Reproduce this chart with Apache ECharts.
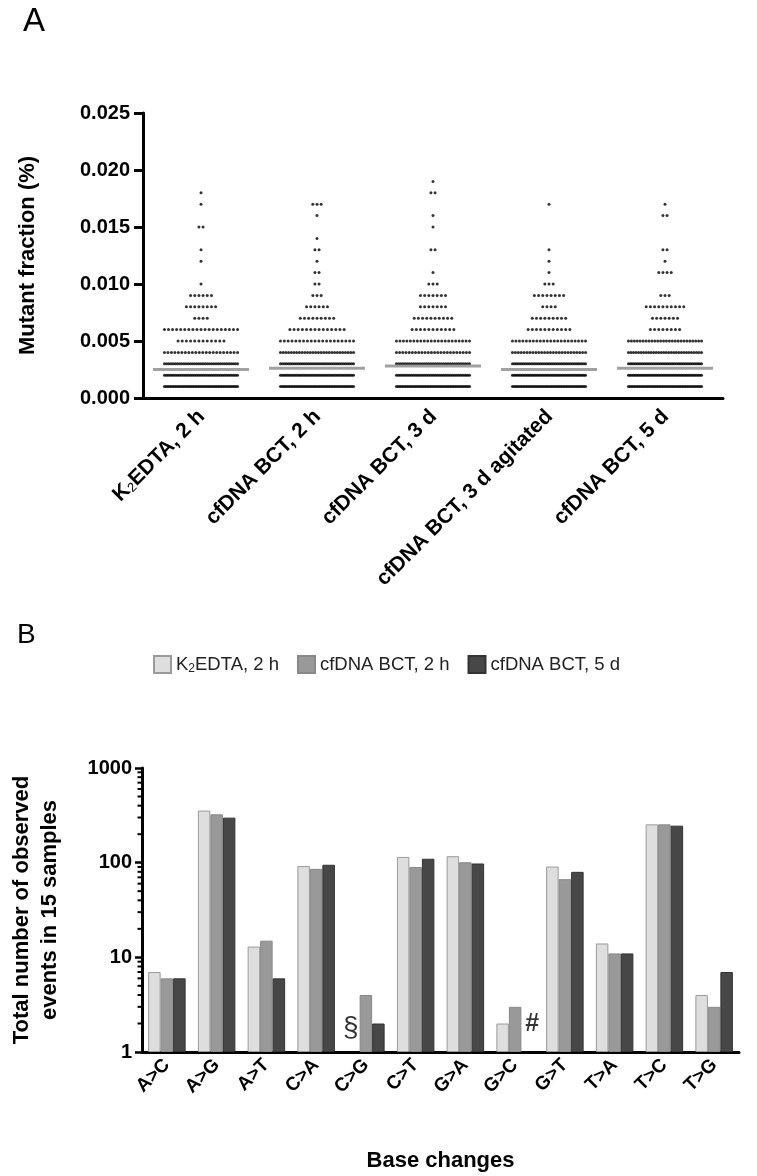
<!DOCTYPE html>
<html>
<head>
<meta charset="utf-8">
<script src="https://cdn.jsdelivr.net/npm/echarts@6/dist/echarts.min.js"></script>
<style>
    html, body { margin: 0; padding: 0; background: #fff; }
    #chart { width: 757px; height: 1176px; }
</style>
</head>
<body>
<div id="chart"></div>
<script>
// ---- panel A: mutant fraction per sample, counts of observations at each level ----
var groupNames = ['K2EDTA, 2 h', 'cfDNA BCT, 2 h', 'cfDNA BCT, 3 d', 'cfDNA BCT, 3 d agitated', 'cfDNA BCT, 5 d'];
var fractionLevels = [0.001, 0.002, 0.003, 0.004, 0.005, 0.006, 0.007, 0.008, 0.009, 0.010,
    0.011, 0.012, 0.013, 0.014, 0.015, 0.016, 0.017, 0.018, 0.019];
var countsK2edta2h = [45, 40, 35, 22, 12, 19, 4, 8, 6, 1, 0, 1, 1, 0, 2, 0, 1, 1, 0];
var countsBct2h = [45, 42, 38, 28, 20, 14, 9, 6, 3, 2, 2, 1, 2, 1, 0, 1, 3, 0, 0];
var countsBct3d = [45, 40, 35, 24, 22, 11, 10, 7, 7, 3, 1, 0, 2, 0, 1, 1, 0, 2, 1];
var countsBct3dAgit = [45, 45, 40, 26, 22, 11, 9, 4, 8, 3, 1, 1, 1, 0, 0, 0, 1, 0, 0];
var countsBct5d = [45, 45, 42, 30, 26, 8, 7, 10, 3, 0, 4, 1, 2, 0, 0, 2, 1, 0, 0];
var meanFractions = [0.0025, 0.0026, 0.0028, 0.0025, 0.0026];

// ---- panel B: base change events ----
var baseChanges = ['A>C', 'A>G', 'A>T', 'C>A', 'C>G', 'C>T', 'G>A', 'G>C', 'G>T', 'T>A', 'T>C', 'T>G'];
var seriesNames = ['K2EDTA, 2 h', 'cfDNA BCT, 2 h', 'cfDNA BCT, 5 d'];
var eventsK2edta2h = [7, 355, 13, 92, null, 115, 117, 2, 91, 14, 254, 4];
var eventsBct2h = [6, 324, 15, 86, 4, 90, 101, 3, 67, 11, 254, 3];
var eventsBct5d = [6, 299, 6, 95, 2, 110, 98, null, 80, 11, 246, 7];
var minorTickValues = [2, 3, 4, 5, 6, 7, 8, 9, 20, 30, 40, 50, 60, 70, 80, 90,
    200, 300, 400, 500, 600, 700, 800, 900];
// missing-value marks (§ = not detected in K2EDTA, # = not detected in 5 d)
var noteCats = ['C>G', 'G>C'];
var noteMarks = ['§', '#'];
var noteValues = [1.8, 1.95];

var FONT = "'Liberation Sans', Arial, sans-serif";

// K2EDTA -> K with subscript 2
function subLabel(name, b, s) {
    if (name.indexOf('K2') === 0) {
        return '{' + b + '|K}{' + s + '|2}{' + b + '|' + name.slice(2) + '}';
    }
    return '{' + b + '|' + name + '}';
}

// spread the dots of one level side by side, squeeze them when the row gets too wide
var allCounts = [countsK2edta2h, countsBct2h, countsBct3d, countsBct3dAgit, countsBct5d];
var dotData = [];
var step = 0.036, maxWidth = 0.63;
allCounts.forEach(function (counts, g) {
    counts.forEach(function (n, k) {
        if (!n) return;
        var sp = n > 1 ? Math.min(step, maxWidth / (n - 1)) : 0;
        for (var j = 0; j < n; j++) {
            dotData.push([g + (j - (n - 1) / 2) * sp, fractionLevels[k]]);
        }
    });
});

var chartDom = document.getElementById('chart');
var myChart = echarts.init(chartDom, null, {renderer: 'canvas'});

var axisLine = {show: true, onZero: false, lineStyle: {color: '#000', width: 3}};

var option = {
    backgroundColor: '#fff',
    animation: false,
    textStyle: {fontFamily: FONT},
    title: [
        {text: 'A', left: 18, top: 0, textStyle: {fontSize: 33, fontWeight: 'normal', color: '#000', fontFamily: FONT}},
        {text: 'B', left: 12, top: 616, textStyle: {fontSize: 28, fontWeight: 'normal', color: '#000', fontFamily: FONT}}
    ],
    legend: {
        data: seriesNames,
        left: 148,
        top: 650,
        itemWidth: 17,
        itemHeight: 17,
        itemGap: 18,
        icon: 'rect',
        formatter: function (name) { return subLabel(name, 'n', 's'); },
        textStyle: {
            color: '#222',
            rich: {
                n: {fontSize: 18.5, fontFamily: FONT, color: '#222', lineHeight: 20, verticalAlign: 'bottom'},
                s: {fontSize: 12, fontFamily: FONT, color: '#222', lineHeight: 10, verticalAlign: 'bottom'}
            }
        }
    },
    grid: [
        {left: 143, top: 113, right: 34, bottom: 778},
        {left: 136, top: 768, right: 18, bottom: 124}
    ],
    xAxis: [
        {
            type: 'category',
            gridIndex: 0,
            data: groupNames,
            boundaryGap: true,
            axisLine: axisLine,
            axisTick: {alignWithLabel: true, length: 8, lineStyle: {width: 3, color: '#000'}},
            axisLabel: {
                interval: 0,
                rotate: 45,
                margin: 15,
                formatter: function (v) { return subLabel(v, 'b', 's'); },
                rich: {
                    b: {fontSize: 21, fontWeight: 'bold', color: '#000', fontFamily: FONT, lineHeight: 22, verticalAlign: 'bottom'},
                    s: {fontSize: 13, color: '#000', fontFamily: FONT, lineHeight: 11, verticalAlign: 'bottom'}
                }
            },
            splitLine: {show: false}
        },
        {
            type: 'value',
            gridIndex: 0,
            min: -0.5,
            max: 4.5,
            show: false
        },
        {
            type: 'category',
            gridIndex: 1,
            data: baseChanges,
            axisLine: axisLine,
            axisTick: {alignWithLabel: true, length: 7, lineStyle: {width: 2.5, color: '#000'}},
            axisLabel: {
                interval: 0,
                rotate: 45,
                margin: 10,
                color: '#000',
                fontSize: 19,
                fontWeight: 'bold'
            },
            name: 'Base changes',
            nameLocation: 'middle',
            nameGap: 98,
            nameTextStyle: {fontSize: 22, fontWeight: 'bold', color: '#000'}
        }
    ],
    yAxis: [
        {
            type: 'value',
            gridIndex: 0,
            min: 0,
            max: 0.025,
            interval: 0.005,
            axisLine: axisLine,
            axisTick: {show: true, length: 9, lineStyle: {width: 3, color: '#000'}},
            axisLabel: {
                margin: 13,
                color: '#000',
                fontSize: 20,
                fontWeight: 'bold',
                formatter: function (v) { return v.toFixed(3); }
            },
            splitLine: {show: false},
            name: 'Mutant fraction (%)',
            nameLocation: 'middle',
            nameGap: 104,
            nameTextStyle: {fontSize: 22, fontWeight: 'bold', color: '#000'}
        },
        {
            type: 'log',
            gridIndex: 1,
            logBase: 10,
            min: 1,
            max: 1000,
            axisLine: axisLine,
            axisTick: {show: true, length: 7, lineStyle: {width: 2.5, color: '#000'}},
            axisLabel: {
                margin: 10,
                color: '#000',
                fontSize: 20,
                fontWeight: 'bold',
                formatter: function (v) { return String(Math.round(v)); }
            },
            splitLine: {show: false},
            name: 'Total number of observed\nevents in 15 samples',
            nameLocation: 'middle',
            nameGap: 78,
            nameTextStyle: {fontSize: 22, fontWeight: 'bold', color: '#000', lineHeight: 28}
        }
    ],
    series: [
        {
            name: 'dots',
            type: 'scatter',
            xAxisIndex: 1,
            yAxisIndex: 0,
            symbol: 'circle',
            symbolSize: 3,
            itemStyle: {color: '#000'},
            silent: true,
            data: dotData
        },
        {
            name: 'mean',
            type: 'scatter',
            xAxisIndex: 1,
            yAxisIndex: 0,
            symbol: 'rect',
            symbolSize: [96, 3],
            itemStyle: {color: '#8a8a8a'},
            silent: true,
            z: 3,
            data: meanFractions.map(function (m, i) { return [i, m]; })
        },
        {
            name: seriesNames[0],
            type: 'bar',
            xAxisIndex: 2,
            yAxisIndex: 1,
            barWidth: 12.5,
            barGap: '0%',
            barCategoryGap: '25%',
            itemStyle: {color: '#dedede', borderColor: '#9a9a9a', borderWidth: 1},
            data: eventsK2edta2h
        },
        {
            name: seriesNames[1],
            type: 'bar',
            xAxisIndex: 2,
            yAxisIndex: 1,
            barWidth: 12.5,
            barGap: '0%',
            barCategoryGap: '25%',
            itemStyle: {color: '#999999', borderColor: '#888888', borderWidth: 1},
            data: eventsBct2h
        },
        {
            name: seriesNames[2],
            type: 'bar',
            xAxisIndex: 2,
            yAxisIndex: 1,
            barWidth: 12.5,
            barGap: '0%',
            barCategoryGap: '25%',
            itemStyle: {color: '#474747', borderColor: '#333333', borderWidth: 1},
            data: eventsBct5d
        },
        {
            name: 'notes',
            type: 'scatter',
            xAxisIndex: 2,
            yAxisIndex: 1,
            symbolSize: 0,
            silent: true,
            data: noteCats.map(function (c, i) {
                return {
                    value: [c, noteValues[i]],
                    label: {
                        show: true,
                        position: 'inside',
                        formatter: noteMarks[i],
                        offset: [i === 0 ? -15 : 17, 0],
                        fontSize: i === 0 ? 28 : 25,
                        fontWeight: i === 0 ? 'normal' : 'bold',
                        color: '#000'
                    }
                };
            })
        },
        {
            name: 'minor ticks',
            type: 'custom',
            xAxisIndex: 2,
            yAxisIndex: 1,
            silent: true,
            z: 5,
            data: minorTickValues.map(function (v) { return [0, v]; }),
            renderItem: function (params, api) {
                var y = api.coord([0, api.value(1)])[1];
                var x = params.coordSys.x;
                return {
                    type: 'line',
                    shape: {x1: x - 4.5, y1: y, x2: x, y2: y},
                    style: {stroke: '#000', lineWidth: 2}
                };
            }
        }
    ]
};
myChart.setOption(option);
</script>
</body>
</html>
